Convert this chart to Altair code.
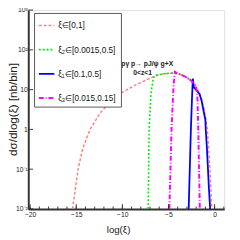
import altair as alt
import pandas as pd

# ---- data ----
series_names = ["ξ∈[0,1]", "ξ₂∈[0.0015,0.5]", "ξ₁∈[0.1,0.5]", "ξ₃∈[0.015,0.15]"]
series_colors = ["#ff8080", "#00ee00", "#0000ff", "#ff00ff"]

red_x = [-15.4, -14.8, -14.3, -13.5, -12.4, -11.0, -10.0, -8.6, -7.5, -6.5, -5.5, -4.7, -3.9, -3.3, -2.3, -1.65, -1.15, -0.78, -0.5, -0.3]
red_y = [0.01, 0.1, 0.33, 1, 2.6, 5.9, 8.5, 13, 17, 22, 25, 26, 25, 22, 15, 8.5, 3.5, 1, 0.1, 0.01]

green_x = [-7.2, -7.1, -6.9, -6.65, -6.46, -5.5, -4.7, -3.9, -3.3, -2.6, -2.2]
green_y = [0.01, 1, 8, 19, 23, 25, 26, 25, 22, 17.5, 13.5]

blue_x = [-2.81, -2.69, -2.57, -2.45, -2.36, -2.25, -2.1, -1.85, -1.64, -1.42, -1.14, -1.0, -0.96, -0.83, -0.62, -0.48]
blue_y = [0.01, 0.1, 1, 6, 19, 11.5, 10.5, 9, 7.8, 5.4, 2.5, 1.75, 1, 0.33, 0.035, 0.01]

mag_x = [-4.9, -4.67, -4.45, -4.31, -3.9, -3.3, -2.6, -2.0, -1.85, -1.77, -1.6]
mag_y = [0.01, 1, 12, 28, 25, 22, 17.5, 12, 5.5, 1, 0.01]

x_major = [-20, -15, -10, -5, 0]
x_minor = list(range(-20, 2))
y_tick_vals = [0.01, 0.1, 1, 10, 100, 1000]
y_tick_labels = ["10⁻²", "10⁻¹", "1", "10", "10²", "10³"]

annot_text = ["pγ p→ pJ/ψ g+X", "0<z<1"]
annot_x = [-7.3, -7.8]
annot_y = [44, 26]

y_title = "dσ/dlog(ξ) [nb/bin]"
x_title = "log(ξ)"

# ---- build tables ----
rows = []
for name, xs, ys in zip(series_names, [red_x, green_x, blue_x, mag_x], [red_y, green_y, blue_y, mag_y]):
    for i, (a, b) in enumerate(zip(xs, ys)):
        rows.append({"series": name, "x": a, "y": b, "i": i})
df = pd.DataFrame(rows)
ann = pd.DataFrame({"t": annot_text, "x": annot_x, "y": annot_y})
xmaj = pd.DataFrame({"x": x_major})
xmin = pd.DataFrame({"x": x_minor})
ymaj = pd.DataFrame({"y": y_tick_vals})
ytitle_df = pd.DataFrame({"t": [y_title]})

xscale = alt.Scale(domain=[-20.2, 1.05], nice=False, zero=False)
yscale = alt.Scale(type="log", domain=[0.01, 1000], nice=False)

label_expr = ""
for v, l in zip(y_tick_vals, y_tick_labels):
    label_expr += f"datum.value == {v} ? '{l}' : "
label_expr += "''"

FONT = "Liberation Sans"
H = 206

x_axis = alt.Axis(orient="bottom", values=x_major, ticks=False, domain=True,
                  domainColor="#333", domainWidth=2,
                  labelPadding=2, labelFontSize=7, labelFont=FONT, labelColor="#222",
                  grid=False, format="d",
                  title=x_title, titleFont=FONT, titleFontSize=10, titleFontWeight="normal",
                  titleX=93, titleY=21, titleBaseline="middle", titleAlign="center",
                  titleColor="#222")
y_axis = alt.Axis(orient="left", values=y_tick_vals, labelExpr=label_expr, ticks=False,
                  domain=True, domainColor="#333", domainWidth=2,
                  labelPadding=1, labelFontSize=7, labelFont=FONT, labelColor="#222",
                  grid=False, title=None)

lines = alt.Chart(df).mark_line(clip=True).encode(
    x=alt.X("x:Q", scale=xscale, axis=x_axis),
    y=alt.Y("y:Q", scale=yscale, axis=y_axis),
    color=alt.Color("series:N", scale=alt.Scale(domain=series_names, range=series_colors),
                    legend=alt.Legend(title=None, orient="none", legendX=6, legendY=3,
                                      symbolType="stroke", symbolSize=256, labelFontSize=8.5,
                                      labelFont=FONT, labelColor="#111", labelOffset=3,
                                      rowPadding=11, padding=4, strokeColor="#555",
                                      fillColor="white", cornerRadius=0, labelLimit=200)),
    strokeDash=alt.StrokeDash("series:N", scale=alt.Scale(domain=series_names,
                              range=[[3, 2], [2, 2], [1, 0], [5, 2, 1, 2]]), legend=None),
    strokeWidth=alt.StrokeWidth("series:N", scale=alt.Scale(domain=series_names, range=[1.5, 2, 2.5, 2]),
                                legend=None),
    order="i:Q",
)

xmaj_ticks = alt.Chart(xmaj).mark_rule(color="#333", strokeWidth=1).encode(
    x=alt.X("x:Q", scale=xscale, axis=x_axis), y=alt.value(H), y2=alt.value(H - 5))
xmin_ticks = alt.Chart(xmin).mark_rule(color="#333", strokeWidth=1).encode(
    x=alt.X("x:Q", scale=xscale, axis=x_axis), y=alt.value(H), y2=alt.value(H - 2.5))
ymaj_ticks = alt.Chart(ymaj).mark_rule(color="#333", strokeWidth=1).encode(
    y=alt.Y("y:Q", scale=yscale, axis=y_axis), x=alt.value(0), x2=alt.value(5))

text = alt.Chart(ann).mark_text(font=FONT, fontSize=7, fontWeight="bold", color="#222").encode(
    x=alt.X("x:Q", scale=xscale, axis=x_axis),
    y=alt.Y("y:Q", scale=yscale, axis=y_axis),
    text="t:N",
)

ytitle = alt.Chart(ytitle_df).mark_text(font=FONT, fontSize=12, angle=270, align="center",
                                        baseline="middle", color="#222").encode(
    x=alt.value(-16), y=alt.value(103), text="t:N")

chart = alt.layer(lines, xmaj_ticks, xmin_ticks, ymaj_ticks, text, ytitle).properties(
    width=203, height=H,
    autosize=alt.AutoSizeParams(type="none"),
    padding={"left": 21, "top": -2, "right": 8, "bottom": 28},
).configure_view(stroke="#999", strokeWidth=1).configure(background="white")

chart.save("out.html", embed_options={"renderer": "svg", "actions": False})
